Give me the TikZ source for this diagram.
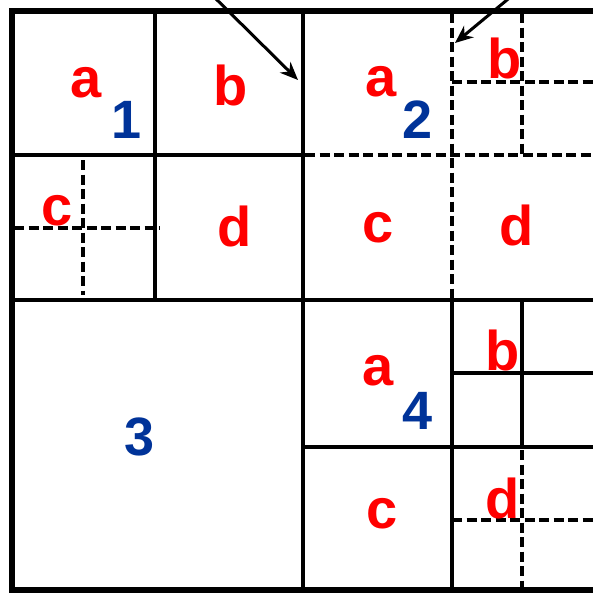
\documentclass[tikz,border=0pt]{standalone}
\usepackage{fontspec}
\setmainfont{Liberation Sans}
\usetikzlibrary{arrows.meta}
\definecolor{lred}{RGB}{255,0,0}
\definecolor{nblue}{RGB}{0,51,153}
\begin{document}
\begin{tikzpicture}[x=1pt,y=-1pt,
  lbl/.style={text=lred,font=\fontsize{56}{56}\selectfont\bfseries,inner sep=0pt},
  num/.style={text=nblue,font=\fontsize{54}{54}\selectfont\bfseries,inner sep=0pt},
  frame/.style={line width=5.5pt,line cap=rect},
  solidline/.style={line width=4pt},
  dashline/.style={line width=3.3pt,dash pattern=on 10pt off 4.5pt},
  pointer/.style={line width=3pt,-{Stealth[length=18pt,width=15pt]}}]
\useasboundingbox (0,0) rectangle (593,595);
\begin{scope}
\clip (0,0) rectangle (593,595);
% outer frame
\draw[frame] (600,11) -- (12,11) -- (12,590) -- (600,590);
% solid lines
\draw[solidline] (155,11) -- (155,300);
\draw[solidline] (303,11) -- (303,590);
\draw[solidline] (12,155) -- (303,155);
\draw[solidline] (12,300) -- (600,300);
\draw[solidline] (452,300) -- (452,590);
\draw[solidline] (303,447) -- (600,447);
\draw[solidline] (522,300) -- (522,447);
\draw[solidline] (452,373) -- (600,373);
% dashed lines
\draw[dashline] (83,160) -- (83,295);
\draw[dashline] (14,228) -- (160,228);
\draw[dashline] (305,155) -- (600,155);
\draw[dashline] (452,13) -- (452,298);
\draw[dashline] (522,13) -- (522,155);
\draw[dashline] (452,82) -- (600,82);
\draw[dashline] (522,450) -- (522,588);
\draw[dashline] (452,520) -- (600,520);
% arrows
\coordinate (s1) at (207,-10);
\coordinate (t1) at (298,80);
\coordinate (s2) at (519,-10);
\coordinate (t2) at (455,43);
\draw[pointer] (s1) -- (t1);
\draw[pointer] (s2) -- (t2);
\end{scope}
% labels
\node[lbl] (q1a) at (86,83) {a};
\node[num] (n1) at (127,120) {1};
\node[lbl] (q1b) at (231,85) {b};
\node[lbl] (q1c) at (57,211) {c};
\node[lbl] (q1d) at (235,226) {d};
\node[lbl] (q2a) at (381,82) {a};
\node[num] (n2) at (418,120) {2};
\node[lbl] (q2b) at (505,58) {b};
\node[lbl] (q2c) at (378,228) {c};
\node[lbl] (q2d) at (517,225) {d};
\node[num] (n3) at (140,437) {3};
\node[lbl] (q4a) at (378,371) {a};
\node[num] (n4) at (418,411) {4};
\node[lbl] (q4b) at (503,350) {b};
\node[lbl] (q4c) at (382,514) {c};
\node[lbl] (q4d) at (503,498) {d};
\end{tikzpicture}
\end{document}
